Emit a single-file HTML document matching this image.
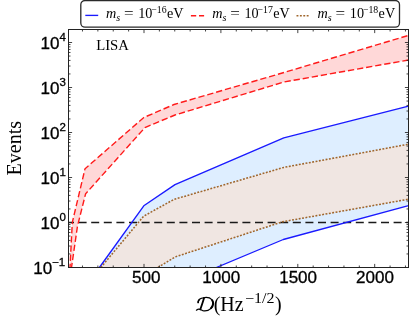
<!DOCTYPE html>
<html><head><meta charset="utf-8"><title>LISA events</title>
<style>
html,body{margin:0;padding:0;background:#fff;}
body{width:415px;height:320px;overflow:hidden;}
svg{display:block;will-change:transform;}
.sans{font-family:"Liberation Sans",sans-serif;stroke:#000;stroke-width:0.3px;}
.serif{font-family:"Liberation Serif",serif;}
</style></head><body>
<svg width="415" height="320" viewBox="0 0 415 320">
<rect x="0" y="0" width="415" height="320" fill="#fff"/>
<defs><clipPath id="cp"><rect x="68.5" y="29.5" width="340.0" height="238.0"/></clipPath></defs>
<g clip-path="url(#cp)">
<polygon points="99.4,267.5 143.8,205.8 175.0,184.6 283.8,137.9 408.5,106.2 408.5,205.7 283.3,239.5 216.3,267.5" fill="#deeeff"/>
<polygon points="100.8,267.5 143.6,216.2 174.0,199.4 283.8,167.4 408.5,144.2 408.5,199.2 282.5,221.8 175.0,257.0 158.0,267.5" fill="#f0e6e2"/>
<polygon points="70.0,267.5 72.3,222.5 85.0,168.8 143.8,117.5 174.0,104.5 284.0,72.5 408.5,35.4 408.5,60.0 284.0,82.0 175.0,115.0 145.0,127.5 85.6,193.8 77.5,226.0 71.5,267.5" fill="#ffd8d8"/>
<line x1="68.5" y1="222.5" x2="408.5" y2="222.5" stroke="#1a1a1a" stroke-width="1.3" stroke-dasharray="8,4.6" stroke-dashoffset="2.5"/>
<polyline points="99.4,267.5 143.8,205.8 175.0,184.6 283.8,137.9 408.5,106.2" fill="none" stroke="#1a1aff" stroke-width="1.35" stroke-linejoin="round"/>
<polyline points="216.3,267.5 283.3,239.5 408.5,205.7" fill="none" stroke="#1a1aff" stroke-width="1.35" stroke-linejoin="round"/>
<polyline points="100.8,267.5 143.6,216.2 174.0,199.4 283.8,167.4 408.5,144.2" fill="none" stroke="#a0662c" stroke-width="1.55" stroke-dasharray="1.9,1.5"/>
<polyline points="158.0,267.5 175.0,257.0 282.5,221.8 408.5,199.2" fill="none" stroke="#a0662c" stroke-width="1.55" stroke-dasharray="1.9,1.5"/>
<polyline points="70.0,267.5 72.3,222.5 85.0,168.8 143.8,117.5 174.0,104.5 284.0,72.5 408.5,35.4" fill="none" stroke="#ff1a1a" stroke-width="1.4" stroke-dasharray="6.3,2.9" stroke-dashoffset="2.6"/>
<polyline points="71.5,267.5 77.5,226.0 85.6,193.8 145.0,127.5 175.0,115.0 284.0,82.0 408.5,60.0" fill="none" stroke="#ff1a1a" stroke-width="1.4" stroke-dasharray="6.3,2.9" stroke-dashoffset="1.7"/>
</g>
<path d="M68.5 267.50h3.6M408.5 267.50h-3.6M68.5 253.95h2.0M408.5 253.95h-2.0M68.5 246.03h2.0M408.5 246.03h-2.0M68.5 240.41h2.0M408.5 240.41h-2.0M68.5 236.05h2.0M408.5 236.05h-2.0M68.5 232.48h2.0M408.5 232.48h-2.0M68.5 229.47h2.0M408.5 229.47h-2.0M68.5 226.86h2.0M408.5 226.86h-2.0M68.5 224.56h2.0M408.5 224.56h-2.0M68.5 222.50h3.6M408.5 222.50h-3.6M68.5 208.95h2.0M408.5 208.95h-2.0M68.5 201.03h2.0M408.5 201.03h-2.0M68.5 195.41h2.0M408.5 195.41h-2.0M68.5 191.05h2.0M408.5 191.05h-2.0M68.5 187.48h2.0M408.5 187.48h-2.0M68.5 184.47h2.0M408.5 184.47h-2.0M68.5 181.86h2.0M408.5 181.86h-2.0M68.5 179.56h2.0M408.5 179.56h-2.0M68.5 177.50h3.6M408.5 177.50h-3.6M68.5 163.95h2.0M408.5 163.95h-2.0M68.5 156.03h2.0M408.5 156.03h-2.0M68.5 150.41h2.0M408.5 150.41h-2.0M68.5 146.05h2.0M408.5 146.05h-2.0M68.5 142.48h2.0M408.5 142.48h-2.0M68.5 139.47h2.0M408.5 139.47h-2.0M68.5 136.86h2.0M408.5 136.86h-2.0M68.5 134.56h2.0M408.5 134.56h-2.0M68.5 132.50h3.6M408.5 132.50h-3.6M68.5 118.95h2.0M408.5 118.95h-2.0M68.5 111.03h2.0M408.5 111.03h-2.0M68.5 105.41h2.0M408.5 105.41h-2.0M68.5 101.05h2.0M408.5 101.05h-2.0M68.5 97.48h2.0M408.5 97.48h-2.0M68.5 94.47h2.0M408.5 94.47h-2.0M68.5 91.86h2.0M408.5 91.86h-2.0M68.5 89.56h2.0M408.5 89.56h-2.0M68.5 87.50h3.6M408.5 87.50h-3.6M68.5 73.95h2.0M408.5 73.95h-2.0M68.5 66.03h2.0M408.5 66.03h-2.0M68.5 60.41h2.0M408.5 60.41h-2.0M68.5 56.05h2.0M408.5 56.05h-2.0M68.5 52.48h2.0M408.5 52.48h-2.0M68.5 49.47h2.0M408.5 49.47h-2.0M68.5 46.86h2.0M408.5 46.86h-2.0M68.5 44.56h2.0M408.5 44.56h-2.0M68.5 42.50h3.6M408.5 42.50h-3.6M82.48 267.5v-2.0M82.48 29.5v2.0M97.86 267.5v-2.0M97.86 29.5v2.0M113.24 267.5v-2.0M113.24 29.5v2.0M128.62 267.5v-2.0M128.62 29.5v2.0M144.00 267.5v-3.6M144.00 29.5v3.6M159.38 267.5v-2.0M159.38 29.5v2.0M174.76 267.5v-2.0M174.76 29.5v2.0M190.14 267.5v-2.0M190.14 29.5v2.0M205.52 267.5v-2.0M205.52 29.5v2.0M220.90 267.5v-3.6M220.90 29.5v3.6M236.28 267.5v-2.0M236.28 29.5v2.0M251.66 267.5v-2.0M251.66 29.5v2.0M267.04 267.5v-2.0M267.04 29.5v2.0M282.42 267.5v-2.0M282.42 29.5v2.0M297.80 267.5v-3.6M297.80 29.5v3.6M313.18 267.5v-2.0M313.18 29.5v2.0M328.56 267.5v-2.0M328.56 29.5v2.0M343.94 267.5v-2.0M343.94 29.5v2.0M359.32 267.5v-2.0M359.32 29.5v2.0M374.70 267.5v-3.6M374.70 29.5v3.6M390.08 267.5v-2.0M390.08 29.5v2.0M405.46 267.5v-2.0M405.46 29.5v2.0" stroke="#222" stroke-width="0.85" fill="none"/>
<rect x="68.5" y="29.5" width="340.0" height="238.0" fill="none" stroke="#222" stroke-width="1"/>
<text class="sans" transform="translate(52.1,274.0) scale(1.065,1)" font-size="16" text-anchor="end" fill="#000">10</text>
<text class="sans" transform="translate(52.1,266.0) scale(1.065,1)" font-size="10.8" text-anchor="start" fill="#000">−1</text>
<text class="sans" transform="translate(59.4,229.0) scale(1.065,1)" font-size="16" text-anchor="end" fill="#000">10</text>
<text class="sans" transform="translate(59.4,221.0) scale(1.065,1)" font-size="10.8" text-anchor="start" fill="#000">0</text>
<text class="sans" transform="translate(59.4,184.0) scale(1.065,1)" font-size="16" text-anchor="end" fill="#000">10</text>
<text class="sans" transform="translate(59.4,176.0) scale(1.065,1)" font-size="10.8" text-anchor="start" fill="#000">1</text>
<text class="sans" transform="translate(59.4,139.0) scale(1.065,1)" font-size="16" text-anchor="end" fill="#000">10</text>
<text class="sans" transform="translate(59.4,131.0) scale(1.065,1)" font-size="10.8" text-anchor="start" fill="#000">2</text>
<text class="sans" transform="translate(59.4,94.0) scale(1.065,1)" font-size="16" text-anchor="end" fill="#000">10</text>
<text class="sans" transform="translate(59.4,86.0) scale(1.065,1)" font-size="10.8" text-anchor="start" fill="#000">3</text>
<text class="sans" transform="translate(59.4,49.0) scale(1.065,1)" font-size="16" text-anchor="end" fill="#000">10</text>
<text class="sans" transform="translate(59.4,41.0) scale(1.065,1)" font-size="10.8" text-anchor="start" fill="#000">4</text>
<text class="sans" transform="translate(146.3,282.5) scale(1.065,1)" font-size="16" text-anchor="middle" fill="#000">500</text>
<text class="sans" transform="translate(221.2,282.5) scale(1.065,1)" font-size="16" text-anchor="middle" fill="#000">1000</text>
<text class="sans" transform="translate(298.1,282.5) scale(1.065,1)" font-size="16" text-anchor="middle" fill="#000">1500</text>
<text class="sans" transform="translate(375.0,282.5) scale(1.065,1)" font-size="16" text-anchor="middle" fill="#000">2000</text>
<text class="serif" transform="translate(21.2,148.2) rotate(-90)" font-size="20" text-anchor="middle" fill="#000">Events</text>
<text class="serif" x="96.2" y="49.8" font-size="14.7" fill="#000">LISA</text>
<g class="serif" fill="#000"><text x="213.7" y="310.8" font-size="20">(Hz</text><text transform="translate(244.9,302.9) scale(1.1,1)" font-size="14.6">−1/2</text><text x="274.9" y="310.8" font-size="20">)</text></g>
<g fill="none" stroke="#000" stroke-linecap="round" stroke-linejoin="round"><path d="M198.1 302.6C198 300.3 200 298.3 203 297.8C206.5 297.1 210 297.6 211.8 299.6C213.8 301.9 213.4 305.8 211 308.3C208.8 310.5 205.6 311.3 202.8 310.7C201.2 310.3 200.4 309.1 199.2 309.1C198.2 308.9 197.4 309.4 196.4 310.2" stroke-width="1.2"/><path d="M204 298.2C203 301.5 201.8 305.5 200.3 309.3" stroke-width="1.8"/><path d="M212.2 300.3C213.6 302.5 213.1 305.8 211 308.2" stroke-width="2.0"/><path d="M198.2 302.5C198.1 301.6 198.4 300.8 198.9 300.3" stroke-width="1.6"/></g>
<rect x="80.8" y="0.5" width="318.7" height="26.7" rx="4.2" ry="4.2" fill="#fff" stroke="#2a2a2a" stroke-width="1.3"/>
<line x1="85.3" y1="15.4" x2="98.2" y2="15.4" stroke="#1a1aff" stroke-width="1.35"/>
<line x1="190.9" y1="15.7" x2="204.1" y2="15.7" stroke="#ff1a1a" stroke-width="1.5" stroke-dasharray="5.3,2.8"/>
<line x1="296.5" y1="15.7" x2="309.5" y2="15.7" stroke="#a0662c" stroke-width="1.55" stroke-dasharray="1.9,1.5"/>
<g class="serif" fill="#000" font-size="14.2"><text x="106.0" y="18.2" font-style="italic">m</text><text x="116.2" y="20.9" font-style="italic" font-size="10">s</text><text transform="translate(124.0,18.2) scale(1.2,1)">=</text><text x="138.2" y="18.2">10</text><text x="151.3" y="12.8" font-size="9.8">−16</text><text x="167.0" y="18.2">eV</text></g>
<g class="serif" fill="#000" font-size="14.2"><text x="212.2" y="18.2" font-style="italic">m</text><text x="222.39999999999998" y="20.9" font-style="italic" font-size="10">s</text><text transform="translate(230.2,18.2) scale(1.2,1)">=</text><text x="244.39999999999998" y="18.2">10</text><text x="257.5" y="12.8" font-size="9.8">−17</text><text x="273.2" y="18.2">eV</text></g>
<g class="serif" fill="#000" font-size="14.2"><text x="317.6" y="18.2" font-style="italic">m</text><text x="327.8" y="20.9" font-style="italic" font-size="10">s</text><text transform="translate(335.6,18.2) scale(1.2,1)">=</text><text x="349.8" y="18.2">10</text><text x="362.90000000000003" y="12.8" font-size="9.8">−18</text><text x="378.6" y="18.2">eV</text></g>
</svg></body></html>
